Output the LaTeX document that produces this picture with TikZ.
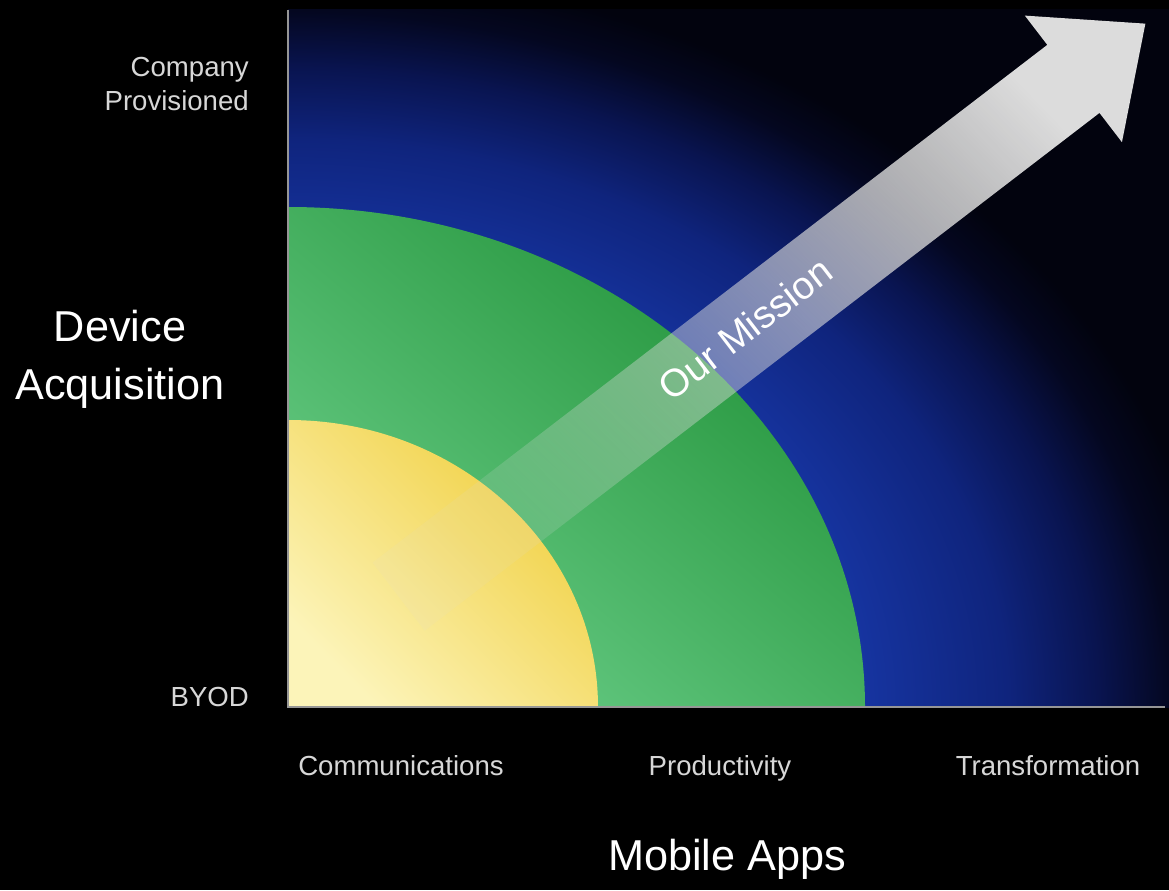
\documentclass[tikz,border=0pt]{standalone}
\usepackage{fontspec}
\setmainfont{Liberation Sans}
\usetikzlibrary{fadings}

\definecolor{ringblue}{RGB}{22,52,160}
\definecolor{midblue}{RGB}{15,36,125}
\definecolor{deepblue}{RGB}{9,20,80}
\definecolor{darkblue}{RGB}{4,7,32}
\definecolor{nightblue}{RGB}{2,3,14}
\definecolor{greenlight}{RGB}{105,205,135}
\definecolor{greendark}{RGB}{32,145,55}
\definecolor{yellowlight}{RGB}{252,244,185}
\definecolor{yellowdark}{RGB}{240,206,60}
\definecolor{arrowgray}{RGB}{220,220,220}
\definecolor{labelgray}{RGB}{215,215,215}
\definecolor{axisgray}{RGB}{150,150,150}

\pgfdeclareradialshading{bluering}{\pgfpoint{0bp}{0bp}}{color(0bp)=(ringblue); color(16bp)=(ringblue); color(20bp)=(midblue); color(22.5bp)=(deepblue); color(24.5bp)=(darkblue); color(26bp)=(nightblue); color(50bp)=(nightblue)}
\tikzfading[name=arrowfade, left color=transparent!90, middle color=transparent!40, right color=transparent!0]

\tikzset{
  ticklabel/.style={text=labelgray, font=\fontsize{15.7}{19.3}\selectfont},
  axistitle/.style={text=white, font=\fontsize{24.6}{33}\selectfont, align=center}
}

\begin{document}
\begin{tikzpicture}
\fill[black] (0,0) rectangle (23.38,17.8);
\coordinate (o) at (5.76,3.66);
\coordinate (ytop) at (5.76,17.6);
\coordinate (xend) at (23.3,3.66);

% blue background
\begin{scope}
\clip (o) rectangle (23.38,17.6);
\shade[shading=bluering, shift={(o)}] (-18,-14.2) rectangle (18,14.2);
\end{scope}

% quarter rings
\shade[top color=greendark, bottom color=greenlight, shading angle=-40] (o) -- ++(11.54,0) arc[start angle=0, end angle=90, x radius=11.54, y radius=10] -- cycle;
\shade[top color=yellowdark, bottom color=yellowlight, shading angle=-45] (o) -- ++(6.2,0) arc[start angle=0, end angle=90, x radius=6.2, y radius=5.74] -- cycle;

% arrow
\begin{scope}[shift={(7.96,5.9)}, rotate=37.5]
\fill[arrowgray, path fading=arrowfade, fading angle=37.5] (0,-0.86) -- (17.06,-0.86) -- (17.06,-1.6) -- (18.88,0) -- (17.06,1.6) -- (17.06,0.86) -- (0,0.86) -- cycle;
\node[text=white, font=\fontsize{22}{26}\selectfont, rotate=37.5] (mission) at (8.75,0) {Our Mission};
\end{scope}

\path[draw, axisgray, line width=1.2pt] (ytop) -- (o) -- (xend);

\node[ticklabel, align=right, anchor=east] (company) at (5.1,16.12) {Company\\Provisioned};
\node[ticklabel, anchor=east] (byod) at (5.1,3.86) {BYOD};
\node[axistitle] (device) at (2.4,10.62) {Device\\Acquisition};
\node[ticklabel, anchor=base] (comm) at (8.02,2.3) {Communications};
\node[ticklabel, anchor=base] (prod) at (14.4,2.3) {Productivity};
\node[ticklabel, anchor=base] (trans) at (20.96,2.3) {Transformation};
\node[axistitle, anchor=base] (apps) at (14.54,0.4) {Mobile Apps};
\end{tikzpicture}
\end{document}
